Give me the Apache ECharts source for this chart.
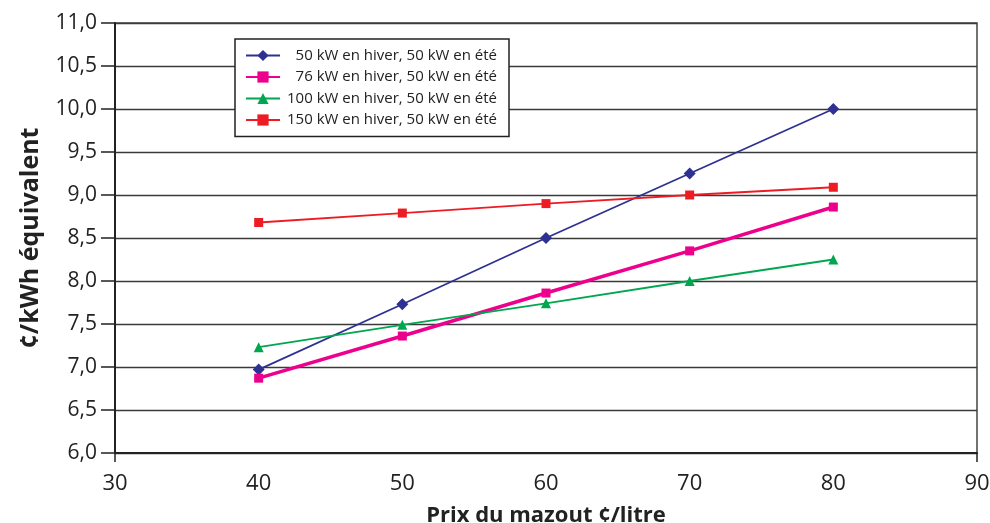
<!DOCTYPE html>
<html>
<head>
<meta charset="utf-8">
<script src="https://cdn.jsdelivr.net/npm/echarts@6/dist/echarts.min.js"></script>
<style>html,body{margin:0;padding:0;background:#fff;}#c{width:990px;height:523px;}</style>
</head>
<body>
<div id="c"></div>
<script>
const prix = [40, 50, 60, 70, 80];
const seriesNames = [
  '50 kW en hiver, 50 kW en été',
  '76 kW en hiver, 50 kW en été',
  '100 kW en hiver, 50 kW en été',
  '150 kW en hiver, 50 kW en été'
];
const s50 = [6.97, 7.73, 8.50, 9.25, 10.00];
const s76 = [6.87, 7.36, 7.86, 8.35, 8.86];
const s100 = [7.23, 7.49, 7.74, 8.00, 8.25];
const s150 = [8.68, 8.79, 8.90, 9.00, 9.09];
const xTitle = 'Prix du mazout ¢/litre';
const yTitle = '¢/kWh équivalent';

const FONT = '"Open Sans", "Noto Sans", sans-serif';
function pts(vals) { return prix.map((x, i) => [x, vals[i]]); }

const chart = echarts.init(document.getElementById('c'), null, { renderer: 'canvas' });
chart.setOption({
  animation: false,
  backgroundColor: '#ffffff',
  grid: { left: 115, right: 13, top: 23, bottom: 70, outerBoundsMode: 'none', containLabel: false,
    show: true, borderColor: '#444', borderWidth: 1.5, backgroundColor: 'transparent' },
  legend: {
    orient: 'vertical',
    left: 235, top: 39,
    backgroundColor: '#fff',
    borderColor: '#222', borderWidth: 1.5, borderRadius: 0,
    padding: [9, 12, 9, 10],
    itemWidth: 34, itemHeight: 14, itemGap: 6.5,
    data: seriesNames,
    formatter: n => '{a|' + n + '}',
    textStyle: {
      fontFamily: FONT, fontSize: 15, color: '#222',
      rich: { a: { width: 212, align: 'right', fontFamily: FONT, fontSize: 15, lineHeight: 14, color: '#222' } }
    }
  },
  xAxis: {
    type: 'value', min: 30, max: 90, interval: 10,
    name: xTitle, nameLocation: 'middle', nameGap: 52,
    nameTextStyle: { fontFamily: FONT, fontSize: 22, fontWeight: 'bold', color: '#222' },
    axisLine: { lineStyle: { color: '#222', width: 2 } },
    axisTick: { show: true, customValues: [30, 90], length: 9, lineStyle: { color: '#222', width: 1.5 } },
    axisLabel: { fontFamily: FONT, fontSize: 22, color: '#222', margin: 20 },
    splitLine: { show: false }
  },
  yAxis: {
    type: 'value', min: 6, max: 11, interval: 0.5,
    name: yTitle, nameLocation: 'middle', nameGap: 72,
    nameTextStyle: { fontFamily: FONT, fontSize: 25, fontWeight: 'bold', color: '#222' },
    axisLine: { show: true, lineStyle: { color: '#222', width: 2 } },
    axisTick: { show: true, length: 14, lineStyle: { color: '#222', width: 1.5 } },
    axisLabel: { fontFamily: FONT, fontSize: 21, color: '#222', margin: 18,
      formatter: v => v.toFixed(1).replace('.', ',') },
    splitLine: { show: true, lineStyle: { color: '#3a3a3a', width: 1.3 } }
  },
  series: [
    { name: seriesNames[0], type: 'line', data: pts(s50), symbol: 'diamond', symbolSize: 12,
      lineStyle: { color: '#2E3192', width: 1.8 }, itemStyle: { color: '#2E3192' } },
    { name: seriesNames[1], type: 'line', data: pts(s76), symbol: 'rect', symbolSize: 9,
      lineStyle: { color: '#EC008C', width: 3.5 }, itemStyle: { color: '#EC008C' } },
    { name: seriesNames[2], type: 'line', data: pts(s100), symbol: 'triangle', symbolSize: 10,
      lineStyle: { color: '#00A650', width: 1.8 }, itemStyle: { color: '#00A650' } },
    { name: seriesNames[3], type: 'line', data: pts(s150), symbol: 'rect', symbolSize: 9,
      lineStyle: { color: '#ED1C24', width: 1.8 }, itemStyle: { color: '#ED1C24' } }
  ]
});
</script>
</body>
</html>
